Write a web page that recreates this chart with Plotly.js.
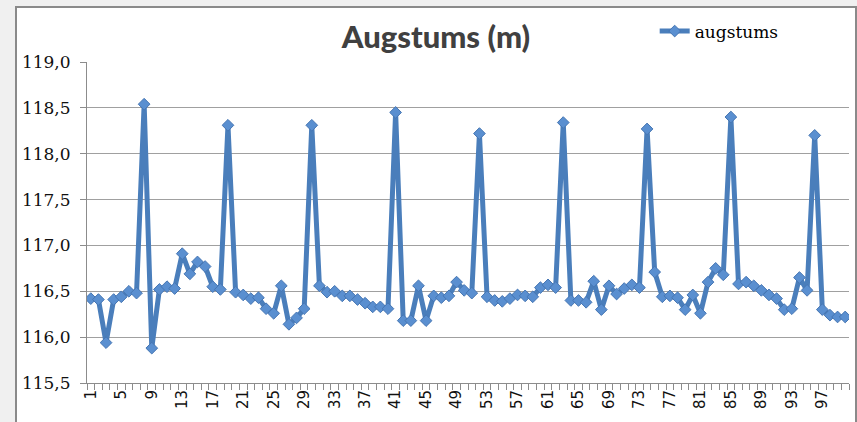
<!DOCTYPE html>
<html>
<head>
<meta charset="utf-8">
<script src="https://cdn.plot.ly/plotly-3.0.1.min.js"></script>
<style>
html,body{margin:0;padding:0;background:#f0f0f0;width:857px;height:422px;overflow:hidden;}
#frame{position:absolute;left:15px;top:6px;width:838px;height:430px;border:2px solid #8a8a8a;background:#fff;}
#chart{width:838px;height:430px;}
</style>
</head>
<body>
<div id="frame"><div id="chart"></div></div>
<script>
const categories = [1,2,3,4,5,6,7,8,9,10,11,12,13,14,15,16,17,18,19,20,
21,22,23,24,25,26,27,28,29,30,31,32,33,34,35,36,37,38,39,40,
41,42,43,44,45,46,47,48,49,50,51,52,53,54,55,56,57,58,59,60,
61,62,63,64,65,66,67,68,69,70,71,72,73,74,75,76,77,78,79,80,
81,82,83,84,85,86,87,88,89,90,91,92,93,94,95,96,97,98,99,100];
const augstums = [116.42,116.41,115.94,116.41,116.44,116.50,116.48,118.54,115.88,116.52,
116.55,116.53,116.91,116.69,116.82,116.77,116.55,116.52,118.31,116.49,
116.46,116.42,116.43,116.31,116.26,116.56,116.14,116.21,116.31,118.31,
116.56,116.49,116.50,116.45,116.45,116.41,116.37,116.33,116.33,116.31,
118.45,116.18,116.18,116.56,116.18,116.45,116.43,116.45,116.60,116.51,
116.48,118.22,116.44,116.40,116.39,116.42,116.46,116.45,116.44,116.54,
116.57,116.54,118.34,116.40,116.40,116.38,116.61,116.30,116.56,116.47,
116.53,116.57,116.54,118.27,116.71,116.44,116.45,116.43,116.30,116.46,
116.26,116.60,116.75,116.68,118.40,116.58,116.60,116.56,116.51,116.46,
116.42,116.30,116.31,116.65,116.51,118.20,116.30,116.24,116.22,116.22];
const xTickVals = [1,5,9,13,17,21,25,29,33,37,41,45,49,53,57,61,65,69,73,77,81,85,89,93,97];
const seriesName = 'augstums';
const chartTitle = 'Augstums (m)';

const trace = {
  x: categories, y: augstums, type: 'scatter', mode: 'lines+markers', name: seriesName,
  line: {color: '#4a7ebb', width: 5},
  marker: {symbol: 'diamond', size: 9, color: '#5a8fd0', line: {color: '#4676b3', width: 1}}
};
const layout = {
  width: 838, height: 430,
  margin: {l: 70, r: 6, t: 48, b: 55},
  paper_bgcolor: '#ffffff', plot_bgcolor: '#ffffff',
  separators: ', ',
  showlegend: true,
  title: {text: chartTitle, font: {family: 'Lato', size: 31, color: '#404040', weight: 900},
          x: 0.5, xanchor: 'center', y: 0.933, yanchor: 'middle', yref: 'container'},
  legend: {x: 0.745, xanchor: 'left', y: 1.095, yanchor: 'middle', orientation: 'h',
           font: {family: 'DejaVu Serif', size: 17, color: '#000'}, bgcolor: 'rgba(0,0,0,0)'},
  xaxis: {
    type: 'linear', range: [0.5, 100.5], tickmode: 'array', tickvals: xTickVals,
    ticktext: xTickVals.map(String), tickangle: -90, ticks: '', showgrid: false, zeroline: false,
    showline: true, linecolor: '#8c8c8c', linewidth: 1,
    tickfont: {family: 'DejaVu Sans', size: 15, color: '#111'},
    minor: {tickmode: 'linear', tick0: 0.5, dtick: 1, ticks: 'outside', ticklen: 6, tickcolor: '#8c8c8c', showgrid: false}
  },
  yaxis: {
    range: [115.5, 119.0], dtick: 0.5, tick0: 115.5, tickformat: '.1f',
    showgrid: true, gridcolor: '#a0a0a0', gridwidth: 1, zeroline: false,
    showline: true, linecolor: '#8c8c8c', linewidth: 1,
    ticks: 'outside', ticklen: 6, tickcolor: '#8c8c8c', ticklabelstandoff: 6,
    tickfont: {family: 'DejaVu Serif', size: 17, color: '#111'}
  }
};
Plotly.newPlot('chart', [trace], layout, {staticPlot: true, displayModeBar: false});
</script>
</body>
</html>
